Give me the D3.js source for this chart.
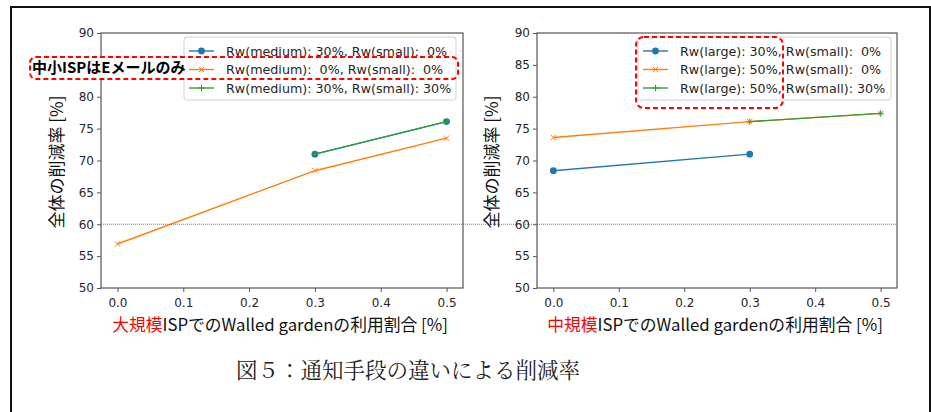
<!DOCTYPE html>
<html>
<head>
<meta charset="utf-8">
<script src="https://cdn.jsdelivr.net/npm/d3@7"></script>
<style>
  body { margin: 0; background: #fff; }
  svg text { white-space: pre; }
</style>
</head>
<body>
<svg id="chart" width="931" height="412"></svg>
<script>
// ---- data ----
const xTicks = [0.0, 0.1, 0.2, 0.3, 0.4, 0.5];
const yTicks = [50, 55, 60, 65, 70, 75, 80, 85, 90];
const refLine = 60;

const leftLabels = ["Rw(medium): 30%, Rw(small):  0%",
                    "Rw(medium):  0%, Rw(small):  0%",
                    "Rw(medium): 30%, Rw(small): 30%"];
const leftX = [[0.3, 0.5], [0.0, 0.3, 0.5], [0.3, 0.5]];
const leftY = [[71.0, 76.1], [56.9, 68.4, 73.5], [71.0, 76.1]];

const rightLabels = ["Rw(large): 30%, Rw(small):  0%",
                     "Rw(large): 50%, Rw(small):  0%",
                     "Rw(large): 50%, Rw(small): 30%"];
const rightX = [[0.0, 0.3], [0.0, 0.3, 0.5], [0.3, 0.5]];
const rightY = [[68.4, 71.0], [73.6, 76.1, 77.4], [76.1, 77.4]];

const colors = ["#1f77b4", "#ff7f0e", "#2ca02c"];
const markers = ["circle", "x", "plus"];

const yTitle = "全体の削減率 [%]";
const leftXTitle = ["大規模", "ISPでのWalled gardenの利用割合 [%]"];
const rightXTitle = ["中規模", "ISPでのWalled gardenの利用割合 [%]"];
const note = "中小ISPはEメールのみ";
const caption = "図５：通知手段の違いによる削減率";

const svg = d3.select("#chart");
const plotTop = 33, plotBottom = 288;
const tickFont = "'DejaVu Sans', sans-serif";
const jpFont = "'Noto Sans CJK JP', sans-serif";

// outer frame of the figure
svg.append("rect")
    .attr("x", 11).attr("y", 7)
    .attr("width", 919).attr("height", 420)
    .attr("fill", "none")
    .attr("stroke", "#111")
    .attr("stroke-width", 2);

const yScale = d3.scaleLinear().domain([50, 90]).range([plotBottom, plotTop]);

function drawPanel(cfg) {
    const x = d3.scaleLinear().domain([-0.025, 0.525]).range([cfg.left, cfg.right]);
    const g = svg.append("g");

    // axes box
    g.append("rect")
        .attr("x", cfg.left).attr("y", plotTop)
        .attr("width", cfg.right - cfg.left).attr("height", plotBottom - plotTop)
        .attr("fill", "none")
        .attr("stroke", "#555")
        .attr("stroke-width", 1.2);

    // ticks
    const xAxis = g.append("g")
        .attr("transform", `translate(0,${plotBottom})`)
        .call(d3.axisBottom(x).tickValues(xTicks).tickFormat(d3.format(".1f")).tickSizeOuter(0).tickSize(4).tickPadding(6));
    xAxis.select(".domain").remove();

    const yAxis = g.append("g")
        .attr("transform", `translate(${cfg.left},0)`)
        .call(d3.axisLeft(yScale).tickValues(yTicks).tickSizeOuter(0).tickSize(4).tickPadding(3));
    yAxis.select(".domain").remove();

    [xAxis, yAxis].forEach(a => {
        a.selectAll("line").attr("stroke", "#555");
        a.selectAll("text")
            .attr("fill", "#262626")
            .style("font-family", tickFont)
            .style("font-size", "12px");
    });

    // labels covered by the pasted note are not visible in the figure
    if (cfg.hiddenTicks) {
        yAxis.selectAll(".tick")
            .filter(d => cfg.hiddenTicks.includes(d))
            .select("text").remove();
    }

    // series
    const line = d3.line().x(d => x(d[0])).y(d => yScale(d[1]));
    cfg.xs.forEach((xs, i) => {
        const pts = xs.map((v, j) => [v, cfg.ys[i][j]]);
        g.append("path")
            .datum(pts)
            .attr("d", line)
            .attr("fill", "none")
            .attr("stroke", colors[i])
            .attr("stroke-width", 1.4);
        pts.forEach(p => drawMarker(g, markers[i], x(p[0]), yScale(p[1]), colors[i]));
    });

    // legend
    const lg = g.append("g");
    lg.append("rect")
        .attr("x", cfg.legX).attr("y", 37)
        .attr("width", cfg.legW).attr("height", 63)
        .attr("rx", 3)
        .attr("fill", "#fff").attr("fill-opacity", 0.8)
        .attr("stroke", "#d0d0d0");
    cfg.labels.forEach((lab, i) => {
        const yy = 51 + i * 18.5;
        lg.append("line")
            .attr("x1", cfg.legX + 5).attr("x2", cfg.legX + 30)
            .attr("y1", yy).attr("y2", yy)
            .attr("stroke", colors[i]).attr("stroke-width", 1.4);
        drawMarker(lg, markers[i], cfg.legX + 17.5, yy, colors[i]);
        lg.append("text")
            .attr("x", cfg.legX + 42).attr("y", yy)
            .attr("dy", "0.36em")
            .attr("fill", "#262626")
            .style("font-family", tickFont)
            .style("font-size", "12.7px")
            .text(lab);
    });

    // y title
    svg.append("text")
        .attr("transform", `translate(${cfg.yTitleX},162) rotate(-90)`)
        .attr("text-anchor", "middle")
        .attr("dy", "0.35em")
        .style("font-family", jpFont)
        .style("font-size", "17px")
        .attr("fill", "#111")
        .text(yTitle);

    // x title
    const xt = svg.append("text")
        .attr("x", (cfg.left + cfg.right) / 2 - 2).attr("y", 331)
        .attr("text-anchor", "middle")
        .style("font-family", jpFont)
        .style("font-size", "16.8px");
    xt.append("tspan").attr("fill", "#ff0000").text(cfg.xTitle[0]);
    xt.append("tspan").attr("fill", "#111").text(cfg.xTitle[1]);
}

function drawMarker(g, type, cx, cy, color) {
    if (type === "circle") {
        g.append("circle").attr("cx", cx).attr("cy", cy).attr("r", 3.4).attr("fill", color);
    } else if (type === "x") {
        const s = 2.6;
        g.append("path")
            .attr("d", `M${cx - s},${cy - s}L${cx + s},${cy + s}M${cx - s},${cy + s}L${cx + s},${cy - s}`)
            .attr("stroke", color).attr("stroke-width", 1);
    } else {
        const s = 3.2;
        g.append("path")
            .attr("d", `M${cx - s},${cy}L${cx + s},${cy}M${cx},${cy - s}L${cx},${cy + s}`)
            .attr("stroke", color).attr("stroke-width", 1);
    }
}

drawPanel({left: 101, right: 463, xs: leftX, ys: leftY, labels: leftLabels,
           legX: 184, legW: 272, yTitleX: 57, xTitle: leftXTitle, hiddenTicks: [85]});
drawPanel({left: 537, right: 897, xs: rightX, ys: rightY, labels: rightLabels,
           legX: 638, legW: 253, yTitleX: 492, xTitle: rightXTitle});

// dotted reference line across both panels
svg.append("line")
    .attr("x1", 101).attr("x2", 897)
    .attr("y1", yScale(refLine)).attr("y2", yScale(refLine))
    .attr("stroke", "#777")
    .attr("stroke-width", 1)
    .attr("stroke-dasharray", "1,1");

// note pasted over the left panel
svg.append("rect")
    .attr("x", 30).attr("y", 57).attr("width", 155).attr("height", 22)
    .attr("fill", "#fff");
svg.append("text")
    .attr("x", 32).attr("y", 68)
    .attr("dy", "0.36em")
    .style("font-family", jpFont)
    .style("font-size", "15px")
    .style("font-weight", "bold")
    .attr("fill", "#000")
    .text(note);

// red dashed annotations
svg.append("rect")
    .attr("x", 30).attr("y", 57).attr("width", 428).attr("height", 22)
    .attr("rx", 6)
    .attr("fill", "none")
    .attr("stroke", "#ff0000").attr("stroke-width", 2)
    .attr("stroke-dasharray", "5,3");

svg.append("rect")
    .attr("x", 636).attr("y", 37).attr("width", 147).attr("height", 71)
    .attr("rx", 8)
    .attr("fill", "none")
    .attr("stroke", "#ff0000").attr("stroke-width", 2)
    .attr("stroke-dasharray", "5,3");

// caption
svg.append("text")
    .attr("x", 408).attr("y", 378)
    .attr("text-anchor", "middle")
    .style("font-family", "'Noto Serif CJK JP', 'IPAMincho', serif")
    .style("font-size", "21.5px")
    .attr("fill", "#222")
    .text(caption);
</script>
</body>
</html>
